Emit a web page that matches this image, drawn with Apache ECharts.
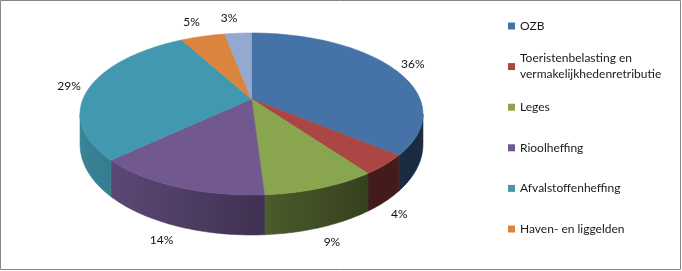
<!DOCTYPE html>
<html>
<head>
<meta charset="utf-8">
<script src="https://cdn.jsdelivr.net/npm/echarts@6/dist/echarts.min.js"></script>
<style>
html,body{margin:0;padding:0;background:#fff;}
#chart{width:682px;height:271px;}
</style>
</head>
<body>
<div id="chart"></div>
<script>
// ---- data ----
const categories = ['OZB', 'Toeristenbelasting en vermakelijkhedenretributie', 'Leges', 'Rioolheffing', 'Afvalstoffenheffing', 'Haven- en liggelden', 'Overig'];
const values = [36, 4, 9, 14, 29, 5, 3];
const colors = ['#4572A7', '#AA4643', '#89A54E', '#71588F', '#4198AF', '#DB843D', '#93A9CF'];
const legendNames = categories.slice(0, 6);

// ---- geometry of the projected 3D pie ----
const CX = 251.5, AX = 168.5, EY = 59.9, FY = 99, G = 0.185;
const TL = Math.acos(-G) * 180 / Math.PI;      // right silhouette angle
const TR = 360 - TL;                            // left silhouette angle
const total = values.reduce((s, v) => s + v, 0);
const startAngles = [], endAngles = [];
(function () { let acc = 0; values.forEach(v => { startAngles.push(acc / total * 360); acc += v; endAngles.push(acc / total * 360); }); })();

function proj(theta, r, bottom) {
  const t = theta * Math.PI / 180;
  const u = r * Math.sin(t), v = -r * Math.cos(t);
  const w = 1 - G * v;
  let x = CX + AX * u / w;
  let y = (EY * v + FY) / w;
  if (bottom) y += 28 + 12 * v;
  return [x, y];
}
function shade(hex, f) {
  const n = parseInt(hex.slice(1), 16);
  const r = Math.round(((n >> 16) & 255) * f), g = Math.round(((n >> 8) & 255) * f), b = Math.round((n & 255) * f);
  return 'rgb(' + r + ',' + g + ',' + b + ')';
}
function shadeFactor(x) { return Math.max(0.39, Math.min(0.9, 0.87 - 0.0017 * (x - 80))); }
function arc(a1, a2, bottom) {
  const pts = [];
  const n = Math.max(2, Math.ceil((a2 - a1) / 1));
  for (let k = 0; k <= n; k++) pts.push(proj(a1 + (a2 - a1) * k / n, 1, bottom));
  return pts;
}

function renderItem(params, api) {
  const i = params.dataIndex;
  const t1 = startAngles[i], t2 = endAngles[i];
  const children = [];
  // side wall
  const s1 = Math.max(t1, TL), s2 = Math.min(t2, TR);
  if (s2 > s1) {
    const topPts = arc(s1, s2, false);
    const botPts = arc(s1, s2, true).reverse();
    const pts = topPts.concat(botPts);
    let xmin = Infinity, xmax = -Infinity;
    pts.forEach(p => { xmin = Math.min(xmin, p[0]); xmax = Math.max(xmax, p[0]); });
    const fill = {
      type: 'linear', x: 0, y: 0, x2: 1, y2: 0,
      colorStops: [{ offset: 0, color: shade(colors[i], shadeFactor(xmin)) }, { offset: 1, color: shade(colors[i], shadeFactor(xmax)) }]
    };
    children.push({ type: 'polygon', z2: 1, shape: { points: pts }, style: { fill: fill, stroke: fill, lineWidth: 0.6 } });
  }
  // top face
  const topFace = [[CX, FY]].concat(arc(t1, t2, false));
  children.push({ type: 'polygon', z2: 10, shape: { points: topFace }, style: { fill: colors[i], stroke: colors[i], lineWidth: 0.6, lineJoin: 'round' } });
  // label
  const m = (t1 + t2) / 2;
  const front = m > TL && m < TR;
  const p = proj(m, 1, front);
  const mr = m * Math.PI / 180;
  const sx = Math.sin(mr), c = Math.cos(mr);
  const gap = 9;
  const lx = p[0] + sx * gap, ly = p[1] - c * gap;
  const align = sx > 0.05 ? 'left' : (sx < -0.05 ? 'right' : 'center');
  const valign = c > 0.5 ? 'bottom' : (c < -0.5 ? 'top' : 'middle');
  children.push({
    type: 'text', z2: 20, x: lx, y: ly,
    style: { text: Math.round(api.value(0) / total * 100) + '%', fill: '#111', font: '12px Lato', align: align, verticalAlign: valign }
  });
  return { type: 'group', children: children };
}

// ---- legends: one per entry so the two-line entry keeps even spacing ----
const legends = legendNames.map((name, i) => {
  const twoLine = name.length > 25;
  const markerY = 26 + i * 40.6;
  return {
    orient: 'vertical', left: 508, top: twoLine ? markerY - 24 : markerY - 8, padding: 0,
    itemWidth: 7, itemHeight: 7, icon: 'rect', selectedMode: false,
    data: [name],
    formatter: n => twoLine ? n.replace(/ (\S+)$/, '\n$1') : n,
    textStyle: Object.assign({ fontFamily: 'Lato', fontSize: 12, color: '#1a1a1a', lineHeight: 16 }, twoLine ? { padding: [16, 0, 0, 0] } : {})
  };
});

const chart = echarts.init(document.getElementById('chart'), null, { renderer: 'canvas' });
chart.setOption({
  animation: false,
  backgroundColor: '#fff',
  legend: legends,
  graphic: [{ type: 'rect', shape: { x: 0.5, y: 0.5, width: 680, height: 269 }, style: { fill: 'none', stroke: '#868686', lineWidth: 1 }, silent: true }],
  series: [
    {
      type: 'pie', radius: [0, 0], center: [-200, -200], silent: true, label: { show: false }, labelLine: { show: false },
      data: categories.map((n, i) => ({ name: n, value: values[i], itemStyle: { color: colors[i] } }))
    },
    {
      type: 'custom', coordinateSystem: 'none', silent: true,
      data: values, renderItem: renderItem
    }
  ]
});
</script>
</body>
</html>
